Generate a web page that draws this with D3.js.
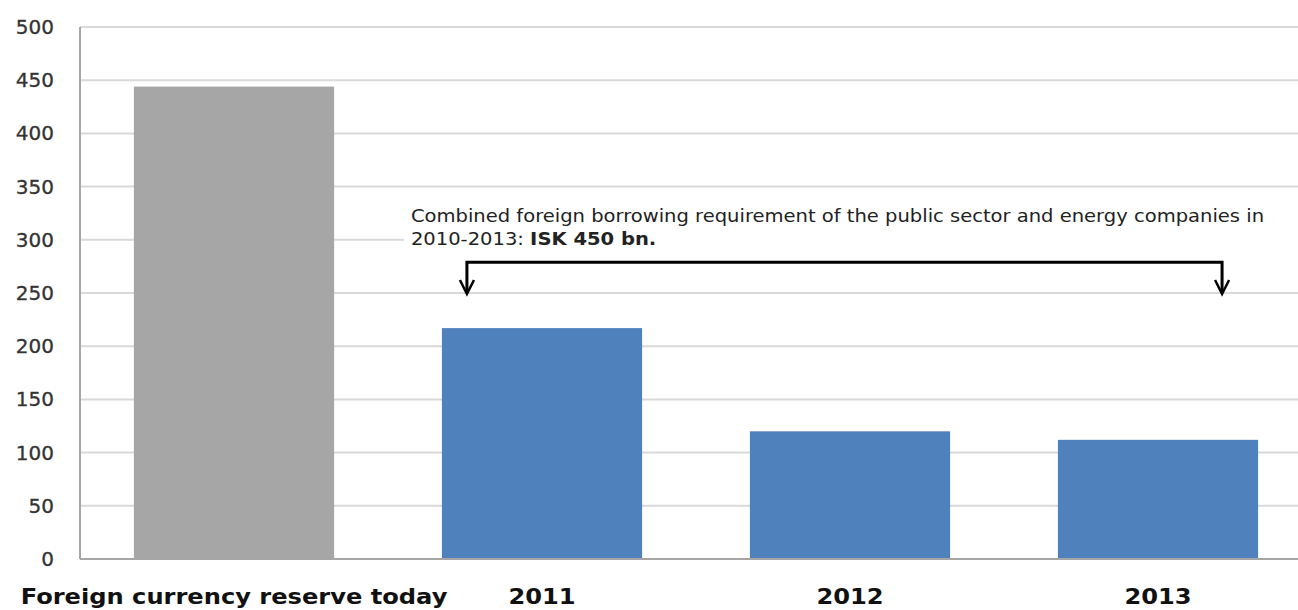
<!DOCTYPE html>
<html>
<head>
<meta charset="utf-8">
<script src="https://cdn.jsdelivr.net/npm/d3@7"></script>
<style>
  body { margin: 0; background: #fff; }
  svg { display: block; }
</style>
</head>
<body>
<div id="chart"></div>
<script>
const categories = ["Foreign currency reserve today", "2011", "2012", "2013"];
const values = [444, 217, 120, 112];
const yTicks = [0, 50, 100, 150, 200, 250, 300, 350, 400, 450, 500];
const noteLine1 = "Combined foreign borrowing requirement of the public sector and energy companies in";
const noteLine2a = "2010-2013: ";
const noteLine2b = "ISK 450 bn.";

let W = 1298, H = 610;
let margin = {top: 27, right: -14, bottom: 51, left: 80},
    width = W - margin.left - margin.right,
    height = H - margin.top - margin.bottom;

let svg = d3.select("#chart").append("svg")
    .attr("width", W)
    .attr("height", H);

let g = svg.append("g")
    .attr("transform", `translate(${margin.left},${margin.top})`);

let x = d3.scaleBand()
    .domain(categories)
    .range([0, width])
    .paddingInner(0.35)
    .paddingOuter(0.175);

let y = d3.scaleLinear()
    .domain([0, 500])
    .range([height, 0]);

// grid lines
g.append("g")
    .selectAll("line")
    .data(yTicks.filter(d => d > 0))
    .join("line")
    .attr("x1", 0)
    .attr("x2", width)
    .attr("y1", d => y(d))
    .attr("y2", d => y(d))
    .attr("stroke", "#d9d9d9")
    .attr("stroke-width", 2);

// y axis
let yAxis = d3.axisLeft(y).tickValues(yTicks).tickSize(0).tickPadding(26);
g.append("g")
    .call(yAxis)
    .call(s => s.select(".domain").remove())
    .selectAll("text")
    .attr("font-family", "Verdana, 'DejaVu Sans', sans-serif")
    .attr("font-size", "20px")
    .attr("fill", "#333")
    .attr("stroke", "#333")
    .attr("stroke-width", 0.3);

g.append("line")
    .attr("x1", 0).attr("x2", 0)
    .attr("y1", 0).attr("y2", height)
    .attr("stroke", "#a6a6a6")
    .attr("stroke-width", 2);

// bars
g.selectAll(".bar")
    .data(categories)
    .join("rect")
    .attr("class", "bar")
    .attr("x", d => x(d))
    .attr("width", x.bandwidth())
    .attr("y", (d, i) => y(values[i]))
    .attr("height", (d, i) => height - y(values[i]))
    .attr("fill", (d, i) => i === 0 ? "#a6a6a6" : "#4f81bd");

// bottom axis line
g.append("line")
    .attr("x1", 0).attr("x2", width)
    .attr("y1", height).attr("y2", height)
    .attr("stroke", "#a6a6a6")
    .attr("stroke-width", 2);

// x labels (a bit wider than DejaVu bold, like the original)
let xAxis = d3.axisBottom(x).tickSize(0).tickPadding(30);
g.append("g")
    .attr("transform", `translate(0,${height})`)
    .call(xAxis)
    .call(s => s.select(".domain").remove())
    .selectAll("text")
    .attr("font-family", "Verdana, 'DejaVu Sans', sans-serif")
    .attr("font-size", "21px")
    .attr("font-weight", "bold")
    .attr("fill", "#111")
    .attr("transform", "scale(1.15,1)");

// annotation box (hides gridline behind text)
g.append("rect")
    .attr("x", x("2011") - 38)
    .attr("y", y(328))
    .attr("width", width)
    .attr("height", y(272) - y(328))
    .attr("fill", "#fff");

let note = g.append("g")
    .attr("transform", `translate(${x("2011") - 31},0) scale(1.15,1)`)
    .append("text")
    .attr("font-family", "'DejaVu Sans', sans-serif")
    .attr("font-size", "17px")
    .attr("fill", "#222");
note.append("tspan")
    .attr("x", 0)
    .attr("y", y(317))
    .text(noteLine1);
let l2 = note.append("tspan")
    .attr("x", 0)
    .attr("y", y(295));
l2.append("tspan").text(noteLine2a);
l2.append("tspan").attr("font-weight", "bold").text(noteLine2b);

// bracket
let bx1 = x("2011") + x.bandwidth() * 0.125,
    bx2 = x("2013") + x.bandwidth() * 0.82,
    byTop = y(279),
    byBot = y(249);
g.append("path")
    .attr("d", `M${bx1},${byBot - 1}V${byTop}H${bx2}V${byBot - 1}`)
    .attr("fill", "none")
    .attr("stroke", "#000")
    .attr("stroke-width", 3);
[bx1, bx2].forEach(bx => {
    g.append("path")
        .attr("d", `M${bx - 7},${byBot - 14}L${bx},${byBot}L${bx + 7},${byBot - 14}`)
        .attr("fill", "none")
        .attr("stroke", "#000")
        .attr("stroke-width", 2.5);
});
</script>
</body>
</html>
